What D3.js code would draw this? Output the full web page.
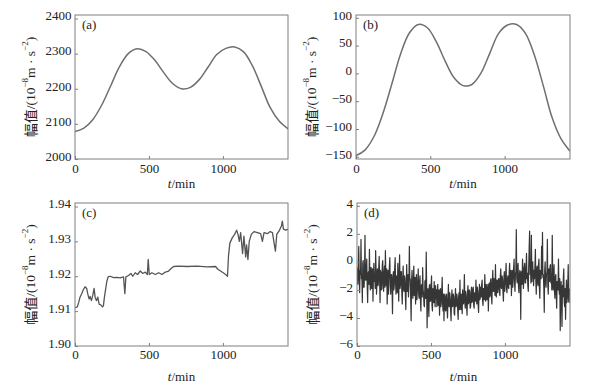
<!DOCTYPE html>
<html>
<head>
<meta charset="utf-8">
<script src="https://cdn.jsdelivr.net/npm/d3@7"></script>
<style>
  body { margin: 0; background: #fff; }
  text { font-family: "Liberation Serif", "Times New Roman", "Noto Sans CJK SC", serif; fill: #222; }
</style>
</head>
<body>
<div id="chart"></div>
<script>
// ---- data ----
const ticksX = [0, 500, 1000];

// (a) & (b): smooth theoretical tide, sampled every 60 min
const timesAB = [0, 60, 120, 180, 240, 300, 360, 420, 480, 540, 600, 660, 720,
  780, 840, 900, 960, 1020, 1080, 1140, 1200, 1260, 1320, 1380, 1440];
const seriesA = [2078, 2088, 2112, 2153, 2207, 2262, 2300, 2314, 2306, 2281, 2246, 2215, 2200,
  2204, 2226, 2262, 2298, 2315, 2319, 2305, 2265, 2206, 2146, 2108, 2086];
const seriesB = [-148, -138, -114, -73, -20, 35, 73, 88, 82, 57, 22, -8, -22,
  -20, 0, 36, 72, 87, 88, 72, 33, -22, -80, -118, -140];
const ticksA = [2000, 2100, 2200, 2300, 2400];
const ticksB = [-150, -100, -50, 0, 50, 100];

// (c): step-like record
const timesC = [0, 16, 25, 34, 45, 57, 68, 79, 86, 95, 102, 111, 120, 129, 136, 145, 154, 163, 174, 185,
  192, 199, 208, 215, 224, 238, 260, 283, 305, 328, 337, 344, 362, 378, 391, 407, 423, 441, 459, 475,
  489, 495, 502, 520, 543, 566, 588, 611, 633, 649, 667, 701, 758, 826, 893, 950, 966, 984, 1002, 1018,
  1031, 1038, 1047, 1063, 1079, 1093, 1102, 1111, 1120, 1133, 1142, 1154, 1160, 1169, 1178, 1192, 1210, 1233, 1255, 1267,
  1278, 1301, 1319, 1335, 1346, 1355, 1364, 1380, 1396, 1402, 1409, 1425, 1440];
const seriesC = [1.9110, 1.9112, 1.9125, 1.9140, 1.9150, 1.9162, 1.9170, 1.9165, 1.9150, 1.9135, 1.9142, 1.9130, 1.9145, 1.9165, 1.9140, 1.9130, 1.9140, 1.9120, 1.9118, 1.9112,
  1.9115, 1.9140, 1.9165, 1.9185, 1.9198, 1.9200, 1.9196, 1.9197, 1.9195, 1.9198, 1.9150, 1.9198, 1.9202, 1.9208, 1.9200, 1.9210, 1.9205, 1.9215, 1.9208, 1.9212,
  1.9205, 1.9248, 1.9205, 1.9210, 1.9205, 1.9210, 1.9205, 1.9212, 1.9215, 1.9222, 1.9228, 1.9229, 1.9228, 1.9229, 1.9227, 1.9228, 1.9220, 1.9215, 1.9210, 1.9205,
  1.9200, 1.9260, 1.9295, 1.9310, 1.9320, 1.9332, 1.9320, 1.9300, 1.9325, 1.9265, 1.9315, 1.9255, 1.9290, 1.9248, 1.9300, 1.9320, 1.9328, 1.9325, 1.9322, 1.9300,
  1.9325, 1.9322, 1.9328, 1.9325, 1.9295, 1.9272, 1.9320, 1.9330, 1.9345, 1.9358, 1.9335, 1.9332, 1.9335];
const ticksC = [1.90, 1.91, 1.92, 1.93, 1.94];

// (d): residual, one reading every 3 min (one row = 1 h)
const stepD = 3;
const seriesD = [
  -0.4, -1.5, -1.6, -0.3, 1.1, -1.3, -2.2, -0.6, -0.9, 1.6, -1.2, -0.9, -2.9, -0.1, 0.1, -1.8, -1.8, -0.7, 1.9, -1.3,
  -1.3, -0.4, 0.2, -1.7, -2.9, -0.8, -0.7, -1.6, 0.9, -1.0, -2.0, -0.4, -0.4, -1.9, -1.4, -0.5, -2.8, -1.1, -0.1, -1.4,
  -0.9, -1.9, 0.8, -0.6, -2.3, -1.3, -0.5, -1.7, -1.6, -0.4, 0.4, -1.4, -2.9, -0.6, -0.8, -2.0, -1.9, -0.2, 0.1, -1.6,
  -2.1, -0.8, -0.3, -1.8, 0.8, -1.1, -1.7, -0.5, -3.0, -1.4, -0.6, -2.3, -1.1, -0.3, 0.3, -1.7, -2.3, -0.9, -0.9, -1.8,
  -3.7, -1.1, -0.7, -2.0, -1.7, -0.4, 0.3, -1.6, -2.3, -1.0, -1.1, -2.2, -0.1, -1.3, -2.8, -0.8, 0.5, -1.9, -1.6, -0.7,
  -0.7, -2.2, -3.0, -1.2, -0.3, -1.9, -2.1, -1.0, -1.2, -2.4, -3.4, -1.5, -0.2, -2.1, -1.8, -0.9, -2.5, -1.6, 1.1, -1.3,
  -1.2, -2.6, -4.2, -1.4, -0.6, -2.3, -2.6, -1.2, -0.3, -2.4, -2.0, -1.1, -3.0, -1.7, -0.9, -2.7, -2.1, -1.4, -0.5, -2.3,
  -2.6, -1.4, -1.0, -2.8, -3.5, -1.7, -1.6, -2.5, -0.4, -2.0, -2.3, -3.1, -3.2, -1.4, -1.3, -2.6, 0.7, -1.9, -4.7, -2.3,
  -1.9, -3.1, -3.9, -1.7, -1.6, -2.8, -2.8, -1.7, -1.0, -3.1, -3.5, -1.9, -2.2, -2.9, -1.4, -2.5, -3.2, -1.7, -2.6, -2.0,
  -3.2, -2.2, -1.6, -3.1, -2.8, -2.0, -3.8, -2.5, -1.9, -3.2, -2.9, -2.0, -1.1, -3.1, -3.5, -2.3, -4.2, -2.8, -2.3, -3.4,
  -3.5, -2.5, -2.3, -3.4, -4.0, -2.8, -1.6, -3.1, -3.2, -2.2, -2.6, -3.5, -4.2, -2.6, -2.0, -3.2, -3.1, -2.3, -2.5, -3.7,
  -3.8, -2.6, -1.9, -3.2, -3.1, -2.3, -2.6, -3.5, -4.1, -2.5, -2.2, -3.4, -1.3, -2.9, -3.4, -2.3, -2.8, -3.7, -2.0, -2.9,
  -3.0, -2.3, -0.9, -2.9, -3.3, -2.1, -2.4, -3.2, -3.8, -2.3, -1.7, -3.0, -2.9, -2.0, -2.1, -3.3, -3.2, -2.3, -1.8, -2.9,
  -2.8, -1.9, -1.8, -3.1, -3.3, -2.2, -2.2, -2.8, -1.3, -2.5, -3.0, -1.8, -2.1, -3.1, -3.6, -2.2, -1.6, -2.7, -2.5, -1.8,
  -2.5, -1.6, -1.3, -2.8, -3.1, -1.9, -1.9, -2.7, -0.9, -2.1, -2.8, -1.6, -1.8, -2.7, -2.4, -1.6, -3.5, -2.2, -1.5, -2.5,
  -2.4, -1.3, -1.2, -2.5, -3.0, -1.5, -0.6, -2.1, -2.1, -1.2, -1.6, -2.4, -0.2, -1.8, -2.5, -1.3, -1.3, -2.2, -1.9, -1.2,
  -1.2, -2.2, -2.4, -1.0, -0.5, -1.8, -1.9, -1.0, -1.3, -2.2, -2.8, -1.2, -0.7, -2.1, -1.6, -0.9, -0.1, -1.9, -2.2, -1.3,
  -1.0, -1.8, -1.9, -0.7, -0.1, -1.6, -1.5, -0.6, -2.4, -1.3, -0.6, -1.8, -1.2, -0.4, 0.2, -1.5, -2.1, -0.9, -0.7, 2.3,
  -1.2, -1.5, -0.4, -0.1, -1.8, -2.2, -0.9, -0.6, -1.3, -4.1, -0.7, -1.0, -1.6, 0.2, -0.4, -1.9, -1.3, -0.4, -0.1, -1.5,
  -1.5, -0.5, 0.6, -1.2, -0.8, -1.7, -2.1, -0.3, 1.0, 2.2, -0.9, -0.5, -1.5, 1.9, -1.4, -0.3, 0.0, -1.1, -1.7, -0.6,
  -1.2, -0.3, 0.9, -1.4, -2.3, -0.5, -0.3, -1.5, -1.7, -0.2, 0.2, -1.8, -2.6, -0.6, -0.8, -1.2, 1.1, -0.9, 2.1, -1.1,
  -0.9, -1.8, -3.6, -0.6, 0.0, -1.4, -1.8, -0.8, -0.8, 1.6, -1.7, -2.3, -0.5, -1.1, -1.4, -0.3, -0.2, -1.5, -0.9, -2.0,
  1.9, -1.2, -2.0, -0.8, -0.2, -2.1, -2.6, -1.1, -0.9, -2.3, -3.3, -1.4, -1.4, -2.0, 0.2, -1.7, -2.3, -1.2, -4.9, -2.6,
  -1.4, -2.8, -4.6, -1.7, -2.5, -1.1, -0.5, -2.9, -3.2, -1.9, -4.1, -2.3, -1.3, -2.9, -2.6, -1.6, -0.2, -2.8, -2.9, -1.9
];
const ticksD = [-6, -4, -2, 0, 2, 4];

// ---- layout ----
const width = 590, height = 387;
const frameColor = "#7f7f7f";
const serif = '"Liberation Serif", "Times New Roman", serif';

const svg = d3.select("#chart")
  .append("svg")
    .attr("width", width)
    .attr("height", height);

const panels = [
  { tag: "(a)", box: [75, 15, 288, 159], yDomain: [2000, 2410], yTicks: ticksA, fmt: d3.format("d"),
    xs: timesAB, ys: seriesA, color: "#6f6f6f", lw: 1.5, curve: d3.curveCatmullRom, titleY: 188, pad: 3.5 },
  { tag: "(b)", box: [356, 15, 570, 159], yDomain: [-154, 105], yTicks: ticksB, fmt: d3.format("d"),
    xs: timesAB, ys: seriesB, color: "#6f6f6f", lw: 1.5, curve: d3.curveCatmullRom, titleY: 188, pad: 4 },
  { tag: "(c)", box: [75, 203, 288, 346], yDomain: [1.90, 1.941], yTicks: ticksC, fmt: d3.format(".2f"),
    xs: timesC, ys: seriesC, color: "#555", lw: 1.3, curve: d3.curveLinear, titleY: 381, pad: 4 },
  { tag: "(d)", box: [357, 203, 570, 346], yDomain: [-6, 4.2], yTicks: ticksD, fmt: d3.format("d"),
    xs: seriesD.map((d, i) => i * stepD), ys: seriesD, color: "#363636", lw: 1.2, curve: d3.curveLinear, titleY: 381, pad: 4 }
];

panels.forEach(p => {
  const [l, t, r, b] = p.box;

  const xScale = d3.scaleLinear().domain([0, 1440]).range([l, r]);
  const yScale = d3.scaleLinear().domain(p.yDomain).range([b, t]);

  const g = svg.append("g");

  // data line (clipped to frame)
  const clipId = "clip" + p.tag.replace(/\W/g, "");
  g.append("clipPath").attr("id", clipId)
    .append("rect").attr("x", l).attr("y", t).attr("width", r - l).attr("height", b - t);

  const line = d3.line()
    .x((d, i) => xScale(p.xs[i]))
    .y(d => yScale(d))
    .curve(p.curve);

  g.append("path")
    .datum(p.ys)
    .attr("clip-path", `url(#${clipId})`)
    .attr("fill", "none")
    .attr("stroke", p.color)
    .attr("stroke-width", p.lw)
    .attr("stroke-linejoin", "round")
    .attr("d", line);

  // axes, ticks pointing inwards
  const xAxis = g.append("g")
    .attr("transform", `translate(0,${b})`)
    .call(d3.axisBottom(xScale).tickValues(ticksX).tickFormat(d3.format("d"))
      .tickSizeInner(-3).tickSizeOuter(0).tickPadding(p.titleY > 300 ? 4 : 5));
  const yAxis = g.append("g")
    .attr("transform", `translate(${l},0)`)
    .call(d3.axisLeft(yScale).tickValues(p.yTicks).tickFormat(p.fmt)
      .tickSizeInner(-3).tickSizeOuter(0).tickPadding(p.pad));

  [xAxis, yAxis].forEach(ax => {
    ax.select(".domain").remove();
    ax.selectAll("line").attr("stroke", frameColor);
    ax.selectAll("text")
      .attr("font-family", serif)
      .attr("font-size", 13)
      .attr("fill", "#222");
  });
  yAxis.selectAll("text").attr("dy", "0.1em");

  // frame
  g.append("rect")
    .attr("x", l).attr("y", t)
    .attr("width", r - l).attr("height", b - t)
    .attr("fill", "none")
    .attr("stroke", frameColor)
    .attr("stroke-width", 1);

  // panel tag
  g.append("text")
    .attr("x", l + 7).attr("y", t + 14)
    .attr("font-size", 13)
    .text(p.tag);

  // x title
  const xt = g.append("text")
    .attr("x", (l + r) / 2).attr("y", p.titleY)
    .attr("text-anchor", "middle")
    .attr("font-size", 13);
  xt.append("tspan").attr("font-style", "italic").text("t");
  xt.append("tspan").text("/min");

  // y title
  const yt = g.append("text")
    .attr("transform", `translate(${l - 45},${(t + b) / 2}) rotate(-90)`)
    .attr("text-anchor", "middle")
    .attr("dominant-baseline", "central")
    .attr("font-size", 13.5);
  yt.append("tspan").style("font-family", '"Noto Sans CJK SC", sans-serif').attr("font-size", 14).text("幅值");
  yt.append("tspan").text("/(10");
  yt.append("tspan").attr("font-size", 9).attr("dy", -5).text("−8");
  yt.append("tspan").attr("dy", 5).text("m · s");
  yt.append("tspan").attr("font-size", 9).attr("dy", -5).text("−2");
  yt.append("tspan").attr("dy", 5).text(")");
});
</script>
</body>
</html>
